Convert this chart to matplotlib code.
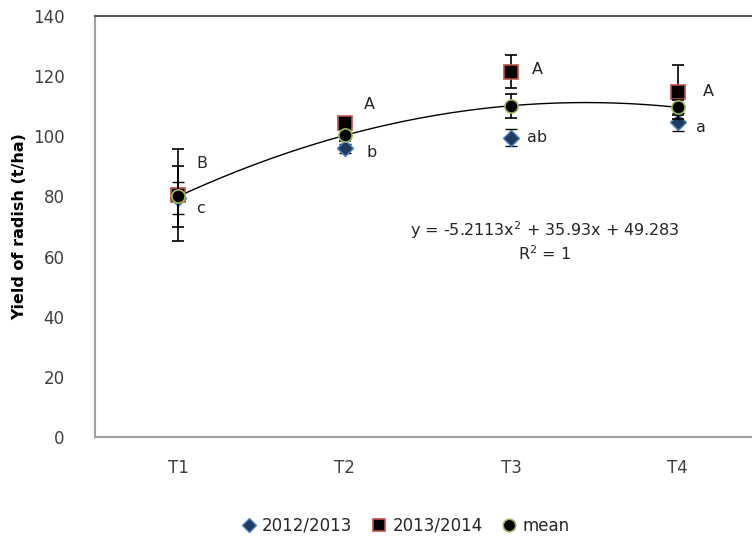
import numpy as np
import matplotlib
matplotlib.use("Agg")
import matplotlib.pyplot as plt
from matplotlib.lines import Line2D

# Treatments and yields (t/ha)
treatments = ["T1", "T2", "T3", "T4"]
yield_1213 = [79.5, 96.0, 99.5, 104.9]
err_1213 = [5.2, 1.5, 2.8, 3.0]
yield_1314 = [80.5, 104.3, 121.5, 114.8]
err_1314 = [15.4, 2.0, 5.5, 9.0]
yield_mean = [80.0, 100.3, 110.2, 109.6]
err_mean = [10.0, 2.0, 4.0, 2.5]
letters_1213 = ["c", "b", "ab", "a"]
letters_1314 = ["B", "A", "A", "A"]
trend_coef = [-5.2113, 35.93, 49.283]   # quadratic trend of the mean
trend_r2 = 1

plt.rcParams["font.family"] = ["DejaVu Sans"]
fig = plt.figure(figsize=(7.52, 5.38), dpi=100)
ax = fig.add_axes([95 / 752, 1 - 437 / 538, (761 - 95) / 752, (437 - 16) / 538])

x = np.arange(1, len(treatments) + 1)
text_col = "#262626"

# Trend line over the range of treatments
xs = np.linspace(x[0], x[-1], 200)
ax.plot(xs, np.polyval(trend_coef, xs), color="black", lw=1.0, zorder=2)

common = dict(ecolor="black", elinewidth=1.2, capsize=4.5, capthick=1.2, ls="none")
ax.errorbar(x, yield_1213, yerr=err_1213, fmt="D", ms=8, mfc="#1f3a5f",
            mec="#4f81bd", mew=1.0, zorder=3, **common)
ax.errorbar(x, yield_1314, yerr=err_1314, fmt="s", ms=9.5, mfc="black",
            mec="#c0504d", mew=1.2, zorder=4, **common)
ax.errorbar(x, yield_mean, yerr=err_mean, fmt="o", ms=9.5, mfc="black",
            mec="#9bbb59", mew=1.2, zorder=5, **common)

# Significance letters next to the marks (offsets in pixels)
off_1314 = [(18, 31), (19, 19), (21, 2), (25, 0)]
off_1213 = [(18, -11), (22, -4), (16, 0), (18, -6)]
for xi, yv, lab, off in zip(x, yield_1314, letters_1314, off_1314):
    ax.annotate(lab, (xi, yv), xytext=off, textcoords="offset pixels",
                ha="left", va="center", fontsize=11.5, color=text_col, zorder=6)
for xi, yv, lab, off in zip(x, yield_1213, letters_1213, off_1213):
    ax.annotate(lab, (xi, yv), xytext=off, textcoords="offset pixels",
                ha="left", va="center", fontsize=11.5, color=text_col, zorder=6)

# Trend equation
a, b, c = trend_coef
eq = f"y = {a:.4f}x$^2$ + {b:.2f}x + {c:.3f}"
ax.text(545 / 752, 1 - 230 / 538, eq, transform=fig.transFigure,
        ha="center", va="center", fontsize=11.5, color=text_col)
ax.text(545 / 752, 1 - 254 / 538, f"R$^2$ = {trend_r2}", transform=fig.transFigure,
        ha="center", va="center", fontsize=11.5, color=text_col)

ax.set_xlim(0.5, 4.5)
ax.set_ylim(0, 140)
ax.set_yticks(np.arange(0, 141, 20))
ax.set_xticks(x)
ax.set_xticklabels(treatments)
ax.tick_params(axis="both", length=0, labelsize=12, labelcolor="#404040")
ax.tick_params(axis="y", pad=22)
ax.tick_params(axis="x", pad=16)
ax.set_ylabel("Yield of radish (t/ha)", fontsize=11.5, fontweight="bold",
              color="black", labelpad=4)

for side in ["left", "bottom", "right"]:
    ax.spines[side].set_color("#a0a0a0")
    ax.spines[side].set_linewidth(1.5)
ax.spines["top"].set_color("#595959")
ax.spines["top"].set_linewidth(1.5)

handles = [
    Line2D([], [], ls="none", marker="D", ms=7, mfc="#1f3a5f", mec="#4f81bd"),
    Line2D([], [], ls="none", marker="s", ms=9, mfc="black", mec="#c0504d", mew=1.2),
    Line2D([], [], ls="none", marker="o", ms=9, mfc="black", mec="#9bbb59", mew=1.2),
]
fig.legend(handles, ["2012/2013", "2013/2014", "mean"], loc="center",
           bbox_to_anchor=(406 / 752, 1 - 526 / 538), ncol=3, frameon=False,
           fontsize=12, handlelength=0.8, handletextpad=0.4, columnspacing=1.2,
           labelcolor=text_col)

fig.savefig("out.png", dpi=100)
